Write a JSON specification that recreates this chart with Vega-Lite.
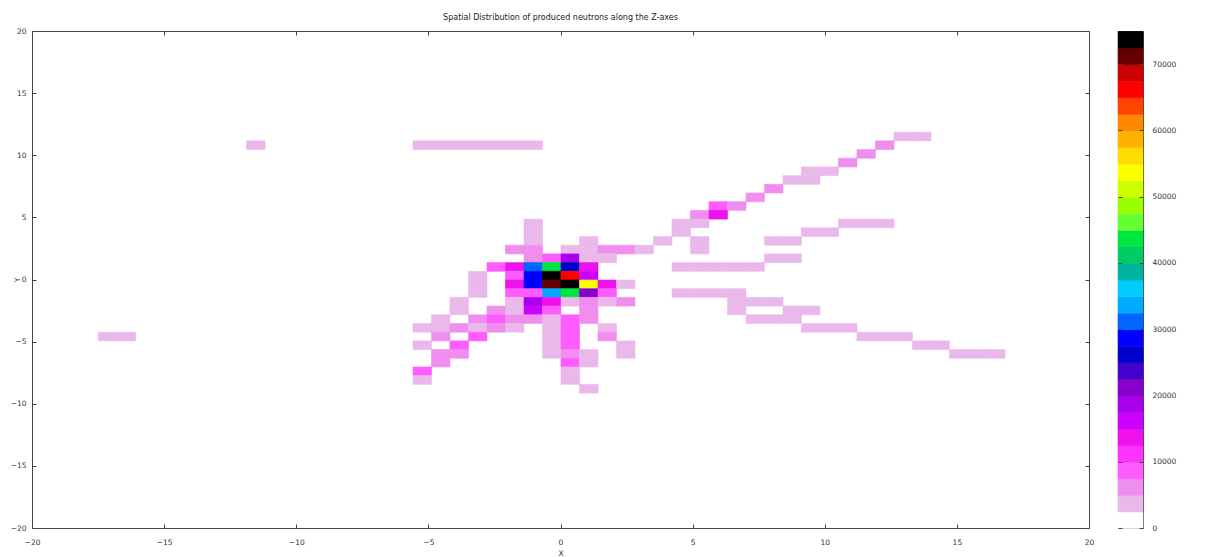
{
  "$schema": "https://vega.github.io/schema/vega-lite/v6.json",
  "background": "white",
  "autosize": {"type": "pad"},
  "padding": {"left": 9, "top": 13, "right": 5, "bottom": 0},
  "spacing": 22,
  "config": {
    "font": "DejaVu Sans",
    "view": {"stroke": "#444", "strokeWidth": 1},
    "rect": {"binSpacing": 0},
    "axis": {
      "domain": false,
      "grid": false,
      "ticks": true,
      "tickSize": -4,
      "tickColor": "#444",
      "labelFontSize": 7.5,
      "labelColor": "#333",
      "labelFont": "DejaVu Sans",
      "titleFontSize": 7.5,
      "titleFontWeight": "normal",
      "titleColor": "#333",
      "titleFont": "DejaVu Sans",
      "format": "d"
    }
  },
  "hconcat": [
    {
      "width": 1057,
      "height": 497,
      "title": {"text": "Spatial Distribution of produced neutrons along the Z-axes", "fontSize": 8, "fontWeight": "normal", "color": "#222", "offset": 5, "anchor": "middle"},
      "data": {"values": [
        {"x": 12.6, "y": 11.2, "v": 3750}, {"x": 13.3, "y": 11.2, "v": 3750},
        {"x": -11.9, "y": 10.5, "v": 3750},
        {"x": -5.6, "y": 10.5, "v": 3750}, {"x": -4.9, "y": 10.5, "v": 3750}, {"x": -4.2, "y": 10.5, "v": 3750}, {"x": -3.5, "y": 10.5, "v": 3750}, {"x": -2.8, "y": 10.5, "v": 3750}, {"x": -2.1, "y": 10.5, "v": 3750}, {"x": -1.4, "y": 10.5, "v": 3750},
        {"x": 11.9, "y": 10.5, "v": 6250},
        {"x": 11.2, "y": 9.8, "v": 6250},
        {"x": 10.5, "y": 9.1, "v": 6250},
        {"x": 9.1, "y": 8.4, "v": 3750}, {"x": 9.8, "y": 8.4, "v": 3750},
        {"x": 8.4, "y": 7.7, "v": 3750}, {"x": 9.1, "y": 7.7, "v": 3750},
        {"x": 7.7, "y": 7, "v": 6250},
        {"x": 7, "y": 6.3, "v": 6250},
        {"x": 5.6, "y": 5.6, "v": 8750}, {"x": 6.3, "y": 5.6, "v": 6250},
        {"x": 4.9, "y": 4.9, "v": 6250}, {"x": 5.6, "y": 4.9, "v": 13750},
        {"x": -1.4, "y": 4.2, "v": 3750}, {"x": 4.2, "y": 4.2, "v": 3750}, {"x": 4.9, "y": 4.2, "v": 3750}, {"x": 10.5, "y": 4.2, "v": 3750}, {"x": 11.2, "y": 4.2, "v": 3750}, {"x": 11.9, "y": 4.2, "v": 3750},
        {"x": -1.4, "y": 3.5, "v": 3750}, {"x": 4.2, "y": 3.5, "v": 3750}, {"x": 9.1, "y": 3.5, "v": 3750}, {"x": 9.8, "y": 3.5, "v": 3750},
        {"x": -1.4, "y": 2.8, "v": 3750}, {"x": 0.7, "y": 2.8, "v": 3750}, {"x": 3.5, "y": 2.8, "v": 3750}, {"x": 4.9, "y": 2.8, "v": 3750}, {"x": 7.7, "y": 2.8, "v": 3750}, {"x": 8.4, "y": 2.8, "v": 3750},
        {"x": -2.1, "y": 2.1, "v": 6250}, {"x": -1.4, "y": 2.1, "v": 6250}, {"x": 0, "y": 2.1, "v": 3750}, {"x": 0.7, "y": 2.1, "v": 3750}, {"x": 1.4, "y": 2.1, "v": 6250}, {"x": 2.1, "y": 2.1, "v": 6250}, {"x": 2.8, "y": 2.1, "v": 3750}, {"x": 4.9, "y": 2.1, "v": 3750},
        {"x": -1.4, "y": 1.4, "v": 6250}, {"x": -0.7, "y": 1.4, "v": 8750}, {"x": 0, "y": 1.4, "v": 18750}, {"x": 0.7, "y": 1.4, "v": 3750}, {"x": 1.4, "y": 1.4, "v": 3750}, {"x": 7.7, "y": 1.4, "v": 3750}, {"x": 8.4, "y": 1.4, "v": 3750},
        {"x": -2.8, "y": 0.7, "v": 8750}, {"x": -2.1, "y": 0.7, "v": 13750}, {"x": -1.4, "y": 0.7, "v": 31250}, {"x": -0.7, "y": 0.7, "v": 43750}, {"x": 0, "y": 0.7, "v": 26250}, {"x": 0.7, "y": 0.7, "v": 13750},
        {"x": 4.2, "y": 0.7, "v": 3750}, {"x": 4.9, "y": 0.7, "v": 3750}, {"x": 5.6, "y": 0.7, "v": 3750}, {"x": 6.3, "y": 0.7, "v": 3750}, {"x": 7, "y": 0.7, "v": 3750},
        {"x": -3.5, "y": 0, "v": 3750}, {"x": -2.1, "y": 0, "v": 8750}, {"x": -1.4, "y": 0, "v": 28750}, {"x": -0.7, "y": 0, "v": 73750}, {"x": 0, "y": 0, "v": 66250}, {"x": 0.7, "y": 0, "v": 16250},
        {"x": -3.5, "y": -0.7, "v": 3750}, {"x": -2.1, "y": -0.7, "v": 13750}, {"x": -1.4, "y": -0.7, "v": 28750}, {"x": -0.7, "y": -0.7, "v": 71250}, {"x": 0, "y": -0.7, "v": 73750}, {"x": 0.7, "y": -0.7, "v": 53750}, {"x": 1.4, "y": -0.7, "v": 13750}, {"x": 2.1, "y": -0.7, "v": 3750},
        {"x": -3.5, "y": -1.4, "v": 3750}, {"x": -2.1, "y": -1.4, "v": 8750}, {"x": -1.4, "y": -1.4, "v": 8750}, {"x": -0.7, "y": -1.4, "v": 33750}, {"x": 0, "y": -1.4, "v": 43750}, {"x": 0.7, "y": -1.4, "v": 21250}, {"x": 1.4, "y": -1.4, "v": 8750},
        {"x": 4.2, "y": -1.4, "v": 3750}, {"x": 4.9, "y": -1.4, "v": 3750}, {"x": 5.6, "y": -1.4, "v": 3750}, {"x": 6.3, "y": -1.4, "v": 3750},
        {"x": -4.2, "y": -2.1, "v": 3750}, {"x": -2.1, "y": -2.1, "v": 3750}, {"x": -1.4, "y": -2.1, "v": 18750}, {"x": -0.7, "y": -2.1, "v": 13750}, {"x": 0, "y": -2.1, "v": 3750}, {"x": 0.7, "y": -2.1, "v": 6250}, {"x": 1.4, "y": -2.1, "v": 3750}, {"x": 2.1, "y": -2.1, "v": 6250},
        {"x": 6.3, "y": -2.1, "v": 3750}, {"x": 7, "y": -2.1, "v": 3750}, {"x": 7.7, "y": -2.1, "v": 3750},
        {"x": -4.2, "y": -2.8, "v": 3750}, {"x": -2.8, "y": -2.8, "v": 6250}, {"x": -2.1, "y": -2.8, "v": 3750}, {"x": -1.4, "y": -2.8, "v": 16250}, {"x": -0.7, "y": -2.8, "v": 8750}, {"x": 0.7, "y": -2.8, "v": 6250},
        {"x": 6.3, "y": -2.8, "v": 3750}, {"x": 8.4, "y": -2.8, "v": 3750}, {"x": 9.1, "y": -2.8, "v": 3750},
        {"x": -4.9, "y": -3.5, "v": 3750}, {"x": -3.5, "y": -3.5, "v": 6250}, {"x": -2.8, "y": -3.5, "v": 8750}, {"x": -2.1, "y": -3.5, "v": 6250}, {"x": -1.4, "y": -3.5, "v": 6250}, {"x": -0.7, "y": -3.5, "v": 3750}, {"x": 0, "y": -3.5, "v": 8750}, {"x": 0.7, "y": -3.5, "v": 6250},
        {"x": 7, "y": -3.5, "v": 3750}, {"x": 7.7, "y": -3.5, "v": 3750}, {"x": 8.4, "y": -3.5, "v": 3750},
        {"x": -5.6, "y": -4.2, "v": 3750}, {"x": -4.9, "y": -4.2, "v": 3750}, {"x": -4.2, "y": -4.2, "v": 6250}, {"x": -3.5, "y": -4.2, "v": 3750}, {"x": -2.8, "y": -4.2, "v": 6250}, {"x": -2.1, "y": -4.2, "v": 3750}, {"x": -0.7, "y": -4.2, "v": 3750}, {"x": 0, "y": -4.2, "v": 8750}, {"x": 1.4, "y": -4.2, "v": 3750},
        {"x": 9.1, "y": -4.2, "v": 3750}, {"x": 9.8, "y": -4.2, "v": 3750}, {"x": 10.5, "y": -4.2, "v": 3750},
        {"x": -17.5, "y": -4.9, "v": 3750}, {"x": -16.8, "y": -4.9, "v": 3750},
        {"x": -4.9, "y": -4.9, "v": 6250}, {"x": -3.5, "y": -4.9, "v": 8750}, {"x": -0.7, "y": -4.9, "v": 3750}, {"x": 0, "y": -4.9, "v": 8750}, {"x": 1.4, "y": -4.9, "v": 6250},
        {"x": 11.2, "y": -4.9, "v": 3750}, {"x": 11.9, "y": -4.9, "v": 3750}, {"x": 12.6, "y": -4.9, "v": 3750},
        {"x": -5.6, "y": -5.6, "v": 3750}, {"x": -4.2, "y": -5.6, "v": 8750}, {"x": -0.7, "y": -5.6, "v": 3750}, {"x": 0, "y": -5.6, "v": 8750}, {"x": 2.1, "y": -5.6, "v": 3750},
        {"x": 13.3, "y": -5.6, "v": 3750}, {"x": 14, "y": -5.6, "v": 3750},
        {"x": -4.9, "y": -6.3, "v": 6250}, {"x": -4.2, "y": -6.3, "v": 6250}, {"x": -0.7, "y": -6.3, "v": 3750}, {"x": 0, "y": -6.3, "v": 6250}, {"x": 0.7, "y": -6.3, "v": 3750}, {"x": 2.1, "y": -6.3, "v": 3750},
        {"x": 14.7, "y": -6.3, "v": 3750}, {"x": 15.4, "y": -6.3, "v": 3750}, {"x": 16.1, "y": -6.3, "v": 3750},
        {"x": -4.9, "y": -7, "v": 6250}, {"x": 0, "y": -7, "v": 8750}, {"x": 0.7, "y": -7, "v": 3750},
        {"x": -5.6, "y": -7.7, "v": 8750}, {"x": 0, "y": -7.7, "v": 3750},
        {"x": -5.6, "y": -8.4, "v": 3750}, {"x": 0, "y": -8.4, "v": 3750},
        {"x": 0.7, "y": -9.1, "v": 3750}
      ]},
      "layer": [
        {
          "mark": {"type": "rect", "binSpacing": 0, "strokeWidth": 0.6},
          "encoding": {
            "x": {"field": "x", "type": "quantitative", "bin": {"binned": true, "step": 0.7},
                  "scale": {"domain": [-20, 20], "nice": false, "zero": false},
                  "axis": {"orient": "bottom", "values": [-20, -15, -10, -5, 0, 5, 10, 15, 20], "format": "d", "title": "X", "labelPadding": 14, "titlePadding": 4, "labelFlush": false}},
            "y": {"field": "y", "type": "quantitative", "bin": {"binned": true, "step": 0.7},
                  "scale": {"domain": [-20, 20], "nice": false, "zero": false},
                  "axis": {"orient": "left", "values": [-20, -15, -10, -5, 0, 5, 10, 15, 20], "format": "d", "title": "Y", "labelPadding": 10, "labelFlush": false, "titleAngle": 270, "titleX": -15, "titleY": 248.5, "titleAlign": "center", "titleBaseline": "middle"}},
            "color": {"field": "v", "type": "quantitative",
                      "scale": {"type": "threshold",
                                "domain": [2500, 5000, 7500, 10000, 12500, 15000, 17500, 20000, 22500, 25000, 27500, 30000, 32500, 35000, 37500, 40000, 42500, 45000, 47500, 50000, 52500, 55000, 57500, 60000, 62500, 65000, 67500, 70000, 72500],
                                "range": ["#ffffff", "#ebb8eb", "#f08ef0", "#ff5cff", "#ff33ff", "#ee11ee", "#cc00ff", "#aa00ee", "#8800cc", "#4400cc", "#0000cc", "#0000ff", "#0066ff", "#00aaff", "#00ccff", "#00b3a0", "#00cc66", "#00e640", "#66ff33", "#99ff00", "#ccff00", "#ffff00", "#ffdd00", "#ffb300", "#ff8800", "#ff4400", "#ff0000", "#cc0000", "#660000", "#000000"]},
                      "legend": null},
            "stroke": {"field": "v", "type": "quantitative",
                      "scale": {"type": "threshold",
                                "domain": [2500, 5000, 7500, 10000, 12500, 15000, 17500, 20000, 22500, 25000, 27500, 30000, 32500, 35000, 37500, 40000, 42500, 45000, 47500, 50000, 52500, 55000, 57500, 60000, 62500, 65000, 67500, 70000, 72500],
                                "range": ["#ffffff", "#ebb8eb", "#f08ef0", "#ff5cff", "#ff33ff", "#ee11ee", "#cc00ff", "#aa00ee", "#8800cc", "#4400cc", "#0000cc", "#0000ff", "#0066ff", "#00aaff", "#00ccff", "#00b3a0", "#00cc66", "#00e640", "#66ff33", "#99ff00", "#ccff00", "#ffff00", "#ffdd00", "#ffb300", "#ff8800", "#ff4400", "#ff0000", "#cc0000", "#660000", "#000000"]},
                      "legend": null}
          }
        },
        {
          "mark": {"type": "rect", "opacity": 0, "binSpacing": 0},
          "encoding": {
            "x": {"field": "x", "type": "quantitative", "bin": {"binned": true, "step": 0.7},
                  "axis": {"orient": "top", "values": [-20, -15, -10, -5, 0, 5, 10, 15, 20], "labels": false, "title": null}},
            "y": {"field": "y", "type": "quantitative", "bin": {"binned": true, "step": 0.7},
                  "axis": {"orient": "right", "values": [-20, -15, -10, -5, 0, 5, 10, 15, 20], "labels": false, "title": null}}
          }
        }
      ],
      "resolve": {"axis": {"x": "independent", "y": "independent"}}
    },
    {
      "width": 25,
      "height": 497,
      "data": {"values": [
        {"lo": 0}, {"lo": 2500}, {"lo": 5000}, {"lo": 7500}, {"lo": 10000}, {"lo": 12500}, {"lo": 15000}, {"lo": 17500}, {"lo": 20000}, {"lo": 22500},
        {"lo": 25000}, {"lo": 27500}, {"lo": 30000}, {"lo": 32500}, {"lo": 35000}, {"lo": 37500}, {"lo": 40000}, {"lo": 42500}, {"lo": 45000}, {"lo": 47500},
        {"lo": 50000}, {"lo": 52500}, {"lo": 55000}, {"lo": 57500}, {"lo": 60000}, {"lo": 62500}, {"lo": 65000}, {"lo": 67500}, {"lo": 70000}, {"lo": 72500}
      ]},
      "layer": [
        {
          "mark": {"type": "rect", "binSpacing": 0, "strokeWidth": 0.6},
          "encoding": {
            "x": {"datum": 0, "type": "quantitative", "scale": {"domain": [0, 1], "nice": false}, "axis": null},
            "x2": {"datum": 1},
            "y": {"field": "lo", "type": "quantitative", "bin": {"binned": true, "step": 2500},
                  "scale": {"domain": [0, 75000], "nice": false, "zero": false},
                  "axis": {"orient": "right", "values": [0, 10000, 20000, 30000, 40000, 50000, 60000, 70000], "format": "d", "title": null, "labelPadding": 13, "labelFlush": false}},
            "color": {"field": "lo", "type": "quantitative",
                      "scale": {"type": "threshold",
                                "domain": [2500, 5000, 7500, 10000, 12500, 15000, 17500, 20000, 22500, 25000, 27500, 30000, 32500, 35000, 37500, 40000, 42500, 45000, 47500, 50000, 52500, 55000, 57500, 60000, 62500, 65000, 67500, 70000, 72500],
                                "range": ["#ffffff", "#ebb8eb", "#f08ef0", "#ff5cff", "#ff33ff", "#ee11ee", "#cc00ff", "#aa00ee", "#8800cc", "#4400cc", "#0000cc", "#0000ff", "#0066ff", "#00aaff", "#00ccff", "#00b3a0", "#00cc66", "#00e640", "#66ff33", "#99ff00", "#ccff00", "#ffff00", "#ffdd00", "#ffb300", "#ff8800", "#ff4400", "#ff0000", "#cc0000", "#660000", "#000000"]},
                      "legend": null},
            "stroke": {"field": "lo", "type": "quantitative",
                      "scale": {"type": "threshold",
                                "domain": [2500, 5000, 7500, 10000, 12500, 15000, 17500, 20000, 22500, 25000, 27500, 30000, 32500, 35000, 37500, 40000, 42500, 45000, 47500, 50000, 52500, 55000, 57500, 60000, 62500, 65000, 67500, 70000, 72500],
                                "range": ["#ffffff", "#ebb8eb", "#f08ef0", "#ff5cff", "#ff33ff", "#ee11ee", "#cc00ff", "#aa00ee", "#8800cc", "#4400cc", "#0000cc", "#0000ff", "#0066ff", "#00aaff", "#00ccff", "#00b3a0", "#00cc66", "#00e640", "#66ff33", "#99ff00", "#ccff00", "#ffff00", "#ffdd00", "#ffb300", "#ff8800", "#ff4400", "#ff0000", "#cc0000", "#660000", "#000000"]},
                      "legend": null}
          }
        },
        {
          "mark": {"type": "rect", "opacity": 0, "binSpacing": 0},
          "encoding": {
            "x": {"datum": 0, "type": "quantitative", "axis": null},
            "x2": {"datum": 1},
            "y": {"field": "lo", "type": "quantitative", "bin": {"binned": true, "step": 2500},
                  "axis": {"orient": "left", "values": [0, 10000, 20000, 30000, 40000, 50000, 60000, 70000], "labels": false, "title": null}}
          }
        }
      ],
      "resolve": {"axis": {"y": "independent"}}
    }
  ]
}
